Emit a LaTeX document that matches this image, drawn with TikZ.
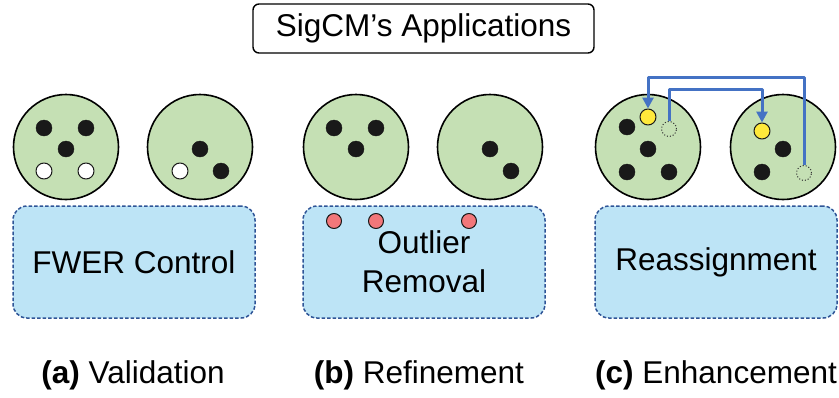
\documentclass[tikz,border=0pt]{standalone}
\usepackage{fontspec}
\setmainfont{Liberation Sans}
\usetikzlibrary{arrows.meta}
\definecolor{cluster}{HTML}{C5E0B4}
\definecolor{method}{HTML}{BDE4F6}
\definecolor{methodline}{HTML}{2F5597}
\definecolor{outlier}{HTML}{F2777A}
\definecolor{moved}{HTML}{FFE93B}
\definecolor{flow}{HTML}{4472C4}
\tikzset{
	head/.style={draw, rounded corners=6pt, line width=1.4pt, minimum width=341pt, minimum height=49pt},
	clus/.style={circle, draw, line width=1.6pt, fill=cluster, minimum size=105pt, inner sep=0pt},
	pt/.style={circle, draw=black!90, fill=black!90, minimum size=16pt, inner sep=0pt},
	hollow/.style={pt, fill=white, line width=1pt},
	redpt/.style={pt, fill=outlier, line width=1pt, minimum size=15pt},
	yelpt/.style={pt, fill=moved, line width=1pt},
	gone/.style={circle, draw=black!80, dotted, line width=1pt, minimum size=15pt, inner sep=0pt},
	methodbox/.style={draw=methodline, fill=method, dash pattern=on 3.5pt off 2pt, line width=1.5pt, rounded corners=14pt, minimum width=242pt, minimum height=112pt, align=center},
	flowline/.style={draw=flow, line width=3pt}
}
\begin{document}
\begin{tikzpicture}[x=1pt, y=-1pt, font=\fontsize{31.5}{39}\selectfont, line join=round, >={Triangle[length=11pt,width=11pt]}]
	\useasboundingbox (0,0) rectangle (839,397);
	\node[head] (title) at (423.5,28.5) {SigCM’s Applications};
	% clusters
	\foreach \n/\x in {a1/66,a2/200,b1/356,b2/490,c1/648,c2/783}
		{\node[clus] (\n) at (\x,147) {};}
	% applications
	\foreach \n/\x/\t in {fwer/134/FWER Control, outl/424/{Outlier\\Removal}, reas/716/Reassignment}
		{\node[methodbox] (\n) at (\x,262) {\t};}
	% points
	\foreach \x/\y [count=\i] in {44/128,86/128,66/149,200/149,221/171,334/128,376/128,356/149,490/149,511/171,627/127,648/149,627/172,669/172,783/149,762/172}
		{\node[pt] (k\i) at (\x,\y) {};}
	\foreach \x/\y [count=\i] in {44/171,86/171,180/171}
		{\node[hollow] (w\i) at (\x,\y) {};}
	\foreach \x/\y [count=\i] in {334/221,376/221,469/221}
		{\node[redpt] (r\i) at (\x,\y) {};}
	\node[yelpt] (y1) at (648,117) {};
	\node[yelpt] (y2) at (762,131) {};
	\node[gone] (o1) at (669,129) {};
	\node[gone] (o2) at (804,173) {};
	% reassignment arrows
	\coordinate (hiA) at (0,77);
	\coordinate (hiB) at (0,89);
	\draw[flowline,->] (o2.north) -- (o2.north |- hiA) -| (y1.north);
	\draw[flowline,->] (o1.north) -- (o1.north |- hiB) -| (y2.north);
	% captions
	\node (capa) at (133,375) {\textbf{(a)} Validation};
	\node (capb) at (419,375) {\textbf{(b)} Refinement};
	\node (capc) at (716,375) {\textbf{(c)} Enhancement};
\end{tikzpicture}
\end{document}
